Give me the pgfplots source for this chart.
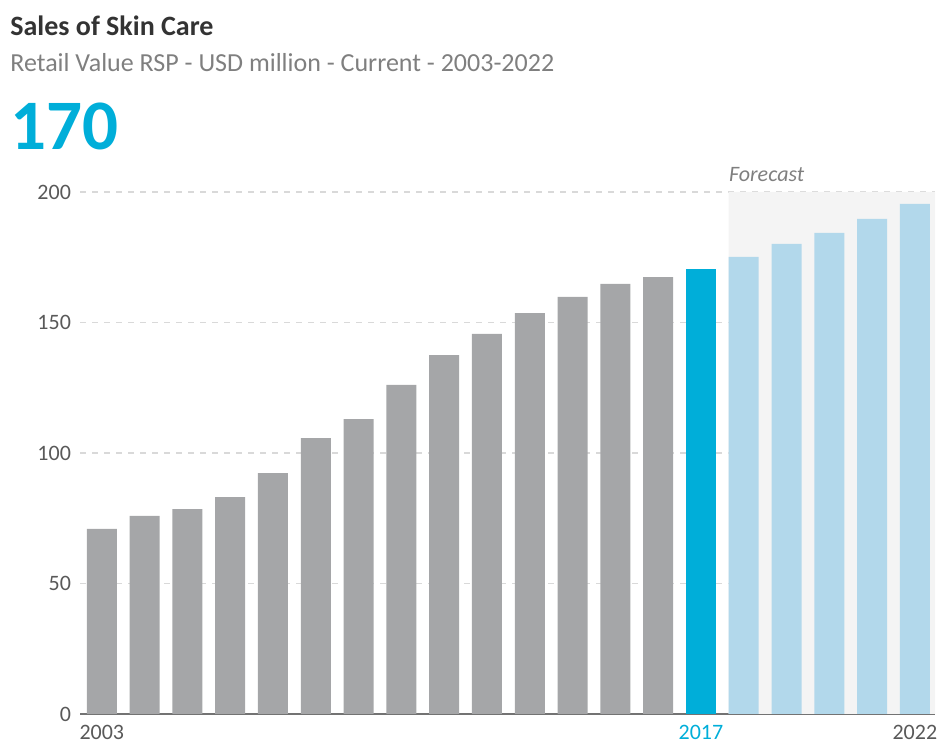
\documentclass[border=0pt]{standalone}
\usepackage{pgfplots}
\pgfplotsset{compat=1.18}
\usepackage{fontspec}
\setmainfont{Carlito}
\definecolor{bargray}{HTML}{A5A6A8}
\definecolor{hiblue}{HTML}{00AED9}
\definecolor{fcblue}{HTML}{B2D8EB}
\definecolor{shade}{HTML}{F4F4F4}
\definecolor{titlecol}{HTML}{333333}
\definecolor{subcol}{HTML}{7F7F7F}
\definecolor{tickcol}{HTML}{595959}
\begin{document}
\begin{tikzpicture}
\path[use as bounding box] (0,0) rectangle (469.5pt,371.5pt);
\node[anchor=base west, inner sep=0pt, text=titlecol, font=\fontsize{14}{16}\selectfont\bfseries] at (5pt,353.5pt) {Sales of Skin Care};
\node[anchor=base west, inner sep=0pt, text=subcol, font=\fontsize{13}{15}\selectfont] at (5pt,335.5pt) {Retail Value RSP - USD million - Current - 2003-2022};
\node[anchor=base west, inner sep=0pt, text=hiblue, font=\fontsize{35.5}{38}\selectfont\bfseries] at (5pt,296.5pt) {170};
\begin{axis}[
  at={(40pt,14.5pt)}, anchor=south west,
  scale only axis, width=427.5pt, height=261pt,
  xmin=-0.51, xmax=19.47, ymin=0, ymax=200,
  axis x line*=bottom, axis y line*=left,
  y axis line style={draw=none},
  x axis line style={draw=black!55, line width=1.4pt},
  ytick={0,50,100,150,200},
  xtick={0,14,19},
  xticklabels={2003,{\textcolor{hiblue}{2017}},2022},
  major tick length=0pt,
  ymajorgrids,
  grid style={dashed, draw=black!15, line width=0.6pt},
  tick label style={font=\fontsize{11}{13}\selectfont, text=tickcol},
  /pgf/number format/assume math mode=true,
  yticklabel style={xshift=-1pt},
  xticklabel style={yshift=-2pt},
  clip=false,
]
\addplot[fill=shade, draw=none] coordinates {(14.65,0) (14.65,200) (19.47,200) (19.47,0)} \closedcycle;
\addplot[ybar, bar shift=0pt, bar width=15pt, fill=bargray, draw=none] coordinates {
(0,70.9) (1,75.9) (2,78.5) (3,83.1) (4,92.3) (5,105.7) (6,113.0) (7,126.1) (8,137.5) (9,145.6) (10,153.6) (11,159.8) (12,164.8) (13,167.4)};
\addplot[ybar, bar shift=0pt, bar width=15pt, fill=hiblue, draw=none] coordinates {(14,170.5)};
\addplot[ybar, bar shift=0pt, bar width=15pt, fill=fcblue, draw=none] coordinates {
(15,175.1) (16,180.1) (17,184.3) (18,189.7) (19,195.4)};
\node[anchor=base west, inner sep=0pt, text=subcol, font=\fontsize{11}{13}\selectfont\itshape] at (axis cs:14.65,204) {Forecast};
\end{axis}
\end{tikzpicture}
\end{document}
